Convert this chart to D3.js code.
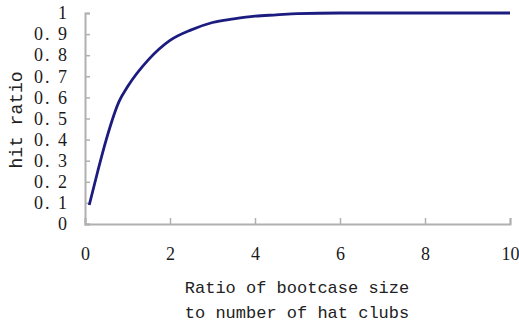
<!DOCTYPE html>
<html>
<head>
<meta charset="utf-8">
<script src="https://cdn.jsdelivr.net/npm/d3@7/dist/d3.min.js"></script>
<style>
  body { margin: 0; background: #fff; }
</style>
</head>
<body>
<svg id="chart"></svg>
<script>
// values
const ratio = [0.1, 0.3, 0.5, 0.8, 1.0, 1.5, 2.0, 2.5, 3.0, 3.5, 4.0, 4.5, 5.0, 6.0, 7.0, 8.0, 9.0, 10.0];
const hitRatio = [0.09, 0.25, 0.40, 0.58, 0.65, 0.78, 0.87, 0.92, 0.955, 0.972, 0.985, 0.991, 0.997, 1.0, 1.0, 1.0, 1.0, 1.0];
const xTicks = [0, 2, 4, 6, 8, 10];
const yTicks = [0, 0.1, 0.2, 0.3, 0.4, 0.5, 0.6, 0.7, 0.8, 0.9, 1];

const width = 519, height = 326;
const plotLeft = 85, plotRight = 510, plotTop = 13, plotBottom = 224;

const svg = d3.select("#chart")
    .attr("width", width)
    .attr("height", height);

const xScale = d3.scaleLinear().domain([0, 10]).range([plotLeft, plotRight]);
const yScale = d3.scaleLinear().domain([0, 1]).range([plotBottom, plotTop]);

const axisColor = "#b0b0b0";
const serif = "Liberation Serif";
const mono = "Liberation Mono";

// x axis, ticks point up into the plot
const xAxis = d3.axisBottom(xScale).tickValues(xTicks).tickSize(-6).tickPadding(23)
    .tickFormat(d3.format("d"));
const gx = svg.append("g")
    .attr("transform", `translate(0, ${plotBottom})`)
    .call(xAxis);

// y axis, ticks point right into the plot
const yAxis = d3.axisLeft(yScale).tickValues(yTicks).tickSize(-5).tickPadding(16)
    .tickFormat(d => d === 0 ? "0" : d === 1 ? "1" : "0. " + Math.round(d * 10));
const gy = svg.append("g")
    .attr("transform", `translate(${plotLeft}, 0)`)
    .call(yAxis);

[gx, gy].forEach(g => {
    g.attr("font-family", serif).attr("font-size", 18);
    g.select(".domain").attr("stroke", axisColor).attr("stroke-width", 2);
    g.selectAll(".tick line").attr("stroke", axisColor).attr("stroke-width", 1.5);
    g.selectAll("text").attr("fill", "#1a1a1a");
});
gy.selectAll("text").attr("letter-spacing", 2);

const line = d3.line()
    .x((d, i) => xScale(ratio[i]))
    .y(d => yScale(d))
    .curve(d3.curveMonotoneX);

svg.append("path")
    .datum(hitRatio)
    .attr("d", line)
    .attr("fill", "none")
    .attr("stroke", "#1c1c80")
    .attr("stroke-width", 2.8);

// axis titles
svg.append("text")
    .attr("transform", "translate(22, 120) rotate(-90)")
    .attr("text-anchor", "middle")
    .attr("font-family", mono)
    .attr("font-size", 18)
    .attr("fill", "#222")
    .text("hit ratio");

svg.append("text")
    .attr("x", 297).attr("y", 293)
    .attr("text-anchor", "middle")
    .attr("font-family", mono)
    .attr("font-size", 17)
    .attr("fill", "#222")
    .text("Ratio of bootcase size");

svg.append("text")
    .attr("x", 297).attr("y", 318)
    .attr("text-anchor", "middle")
    .attr("font-family", mono)
    .attr("font-size", 17)
    .attr("fill", "#222")
    .text("to number of hat clubs");
</script>
</body>
</html>
